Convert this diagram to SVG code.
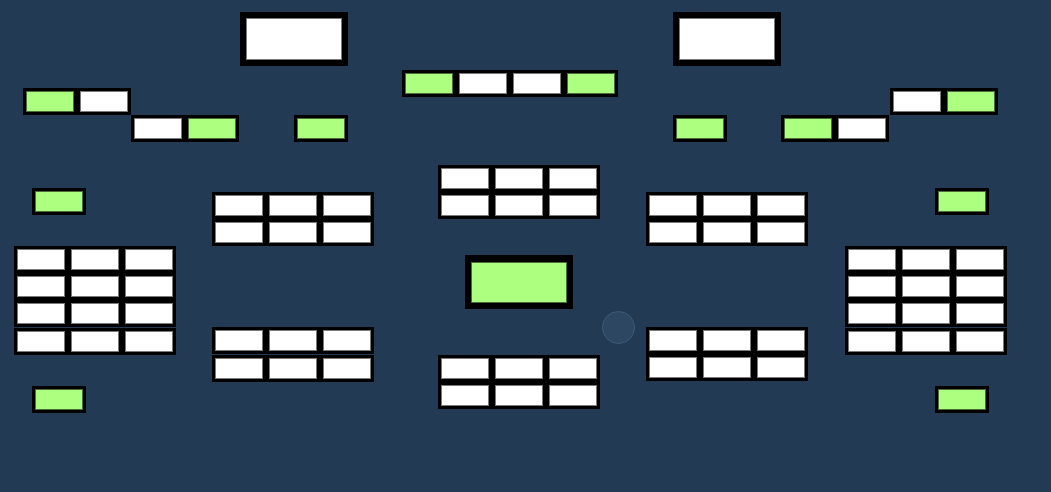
<svg xmlns="http://www.w3.org/2000/svg" xmlns:xlink="http://www.w3.org/1999/xlink" width="1051" height="492" viewBox="0 0 1051 492">
<style>
.bg{fill:#223a54}
.frame{fill:#000}
.w{fill:#fff;stroke:#7a7a7a;stroke-width:1}
.g{fill:#adff7f;stroke:#4d6b3a;stroke-width:1}
.dot{fill:#2d4661;stroke:#3d5a7a;stroke-width:1}
</style>
<defs>
<symbol id="cw" width="54" height="27" overflow="visible"><rect class="frame" x="0" y="0" width="54" height="27"/><rect class="w" x="3.5" y="3.5" width="47" height="20"/></symbol>
<symbol id="cg" width="54" height="27" overflow="visible"><rect class="frame" x="0" y="0" width="54" height="27"/><rect class="g" x="3.5" y="3.5" width="47" height="20"/></symbol>
<symbol id="bw" width="108" height="54" overflow="visible"><rect class="frame" x="0" y="0" width="108" height="54"/><rect class="w" x="6.5" y="6.5" width="95" height="41"/></symbol>
<symbol id="bg" width="108" height="54" overflow="visible"><rect class="frame" x="0" y="0" width="108" height="54"/><rect class="g" x="6.5" y="7.5" width="95" height="40"/></symbol>
</defs>
<rect class="bg" x="0" y="0" width="1051" height="492"/>
<g id="connectors"></g>

<g id="top-left-box"><use href="#bw" x="240" y="12"/></g>
<g id="top-right-box"><use href="#bw" x="673" y="12"/></g>

<g id="top-center-row">
<use href="#cg" x="402" y="70"/><use href="#cw" x="456" y="70"/><use href="#cw" x="510" y="70"/><use href="#cg" x="564" y="70"/>
</g>

<g id="left-pair-1"><use href="#cg" x="23" y="88"/><use href="#cw" x="77" y="88"/></g>
<g id="left-pair-2"><use href="#cw" x="131" y="115"/><use href="#cg" x="185" y="115"/></g>
<g id="left-single-top"><use href="#cg" x="294" y="115"/></g>

<g id="right-single-top"><use href="#cg" x="673" y="115"/></g>
<g id="right-pair-2"><use href="#cg" x="781" y="115"/><use href="#cw" x="835" y="115"/></g>
<g id="right-pair-1"><use href="#cw" x="890" y="88"/><use href="#cg" x="944" y="88"/></g>

<g id="left-green-1"><use href="#cg" x="32" y="188"/></g>
<g id="left-green-2"><use href="#cg" x="32" y="386"/></g>
<g id="right-green-1"><use href="#cg" x="935" y="188"/></g>
<g id="right-green-2"><use href="#cg" x="935" y="386"/></g>

<g id="left-grid">
<use href="#cw" x="14" y="246"/><use href="#cw" x="68" y="246"/><use href="#cw" x="122" y="246"/>
<use href="#cw" x="14" y="273"/><use href="#cw" x="68" y="273"/><use href="#cw" x="122" y="273"/>
<use href="#cw" x="14" y="300"/><use href="#cw" x="68" y="300"/><use href="#cw" x="122" y="300"/>
<use href="#cw" x="14" y="328"/><use href="#cw" x="68" y="328"/><use href="#cw" x="122" y="328"/>
</g>
<g id="right-grid">
<use href="#cw" x="845" y="246"/><use href="#cw" x="899" y="246"/><use href="#cw" x="953" y="246"/>
<use href="#cw" x="845" y="273"/><use href="#cw" x="899" y="273"/><use href="#cw" x="953" y="273"/>
<use href="#cw" x="845" y="300"/><use href="#cw" x="899" y="300"/><use href="#cw" x="953" y="300"/>
<use href="#cw" x="845" y="328"/><use href="#cw" x="899" y="328"/><use href="#cw" x="953" y="328"/>
</g>

<g id="left-inner-top">
<use href="#cw" x="212" y="192"/><use href="#cw" x="266" y="192"/><use href="#cw" x="320" y="192"/>
<use href="#cw" x="212" y="219"/><use href="#cw" x="266" y="219"/><use href="#cw" x="320" y="219"/>
</g>
<g id="left-inner-bottom">
<use href="#cw" x="212" y="327"/><use href="#cw" x="266" y="327"/><use href="#cw" x="320" y="327"/>
<use href="#cw" x="212" y="355"/><use href="#cw" x="266" y="355"/><use href="#cw" x="320" y="355"/>
</g>
<g id="right-inner-top">
<use href="#cw" x="646" y="192"/><use href="#cw" x="700" y="192"/><use href="#cw" x="754" y="192"/>
<use href="#cw" x="646" y="219"/><use href="#cw" x="700" y="219"/><use href="#cw" x="754" y="219"/>
</g>
<g id="right-inner-bottom">
<use href="#cw" x="646" y="327"/><use href="#cw" x="700" y="327"/><use href="#cw" x="754" y="327"/>
<use href="#cw" x="646" y="354"/><use href="#cw" x="700" y="354"/><use href="#cw" x="754" y="354"/>
</g>

<g id="center-top-grid">
<use href="#cw" x="438" y="165"/><use href="#cw" x="492" y="165"/><use href="#cw" x="546" y="165"/>
<use href="#cw" x="438" y="192"/><use href="#cw" x="492" y="192"/><use href="#cw" x="546" y="192"/>
</g>
<g id="center-bottom-grid">
<use href="#cw" x="438" y="355"/><use href="#cw" x="492" y="355"/><use href="#cw" x="546" y="355"/>
<use href="#cw" x="438" y="382"/><use href="#cw" x="492" y="382"/><use href="#cw" x="546" y="382"/>
</g>

<g id="center-box"><use href="#bg" x="465" y="255"/></g>

<g id="marker-dot"><circle class="dot" cx="618.5" cy="327.5" r="16"/></g>
</svg>
